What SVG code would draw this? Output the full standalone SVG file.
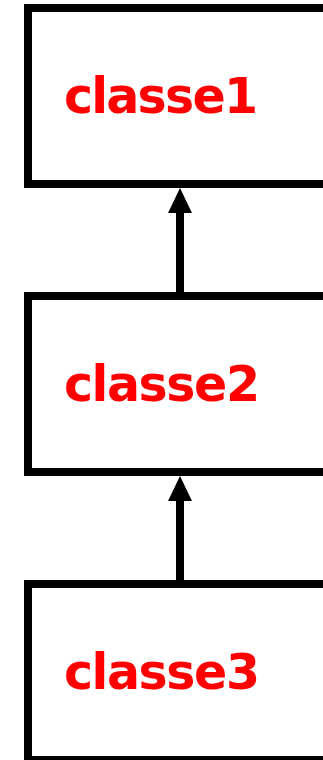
<svg xmlns="http://www.w3.org/2000/svg" width="323" height="760" viewBox="0 0 323 760">
<style>
.box{fill:#fff;stroke:#000;stroke-width:8}
.lbl{font-family:"DejaVu Sans",Verdana,sans-serif;font-weight:bold;font-size:49px;fill:#ff0000}
.edge{stroke:#000;stroke-width:8;fill:none}
.head{fill:#000}
</style>
<rect width="323" height="760" fill="#fff"/>
<g id="classe1"><rect class="box" x="28" y="8" width="304" height="176"/><text class="lbl" x="64" y="113" textLength="194">classe1</text></g>
<g id="classe2"><rect class="box" x="28" y="296" width="304" height="176"/><text class="lbl" x="64" y="401" textLength="196">classe2</text></g>
<g id="classe3"><rect class="box" x="28" y="584" width="304" height="176"/><text class="lbl" x="64" y="689" textLength="196">classe3</text></g>
<g id="connectors">
<line class="edge" x1="180" y1="292" x2="180" y2="210"/>
<polygon class="head" points="180,188 168,213 192,213"/>
<line class="edge" x1="180" y1="580" x2="180" y2="498"/>
<polygon class="head" points="180,476 168,501 192,501"/>
</g>
</svg>
